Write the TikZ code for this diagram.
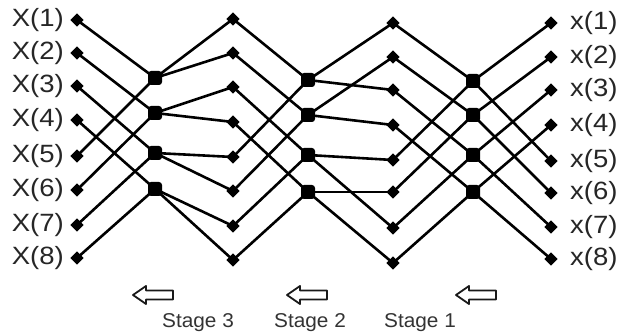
\documentclass[tikz,border=0pt]{standalone}
\usepackage{fontspec}
\usepackage{graphicx}
\setmainfont{Liberation Sans}
\usetikzlibrary{shapes.geometric}
\begin{document}
\begin{tikzpicture}[x=1pt,y=-1pt,
  wire/.style={line width=2.6pt},
  tip/.style={diamond, fill=black, minimum size=13.5pt, inner sep=0pt},
  hub/.style={rectangle, rounded corners=3pt, fill=black, minimum size=14pt, inner sep=0pt},
  lab/.style={font=\fontsize{25}{25}\selectfont, inner sep=0pt, text=black!85},
  stagelab/.style={font=\fontsize{20}{20}\selectfont, inner sep=0pt, text=black!80},
  arrowline/.style={draw=black!90, line width=1.8pt, fill=white, line join=round},
  pics/leftarrow/.style={code={
    \draw[arrowline] (-20,0) -- (-7,-9) -- (-7,-4.5) -- (20,-4.5) -- (20,4.5) -- (-7,4.5) -- (-7,9) -- cycle;
  }}]
\useasboundingbox (0,0) rectangle (621,336);
% columns of points
\foreach \i/\y in {1/20,2/53,3/86,4/120,5/156,6/190,7/225,8/258} \node[tip] (a\i) at (77,\y) {};
\foreach \i/\y in {1/78,2/113,3/153,4/189} \node[hub] (j\i) at (155,\y) {};
\foreach \i/\y in {1/19,2/53,3/87,4/122,5/157,6/191,7/226,8/260} \node[tip] (b\i) at (233,\y) {};
\foreach \i/\y in {1/80,2/115,3/155,4/192} \node[hub] (c\i) at (308,\y) {};
\foreach \i/\y in {1/23,2/57,3/90,4/125,5/160,6/192,7/228,8/263} \node[tip] (d\i) at (393,\y) {};
\foreach \i/\y in {1/81,2/115,3/155,4/192} \node[hub] (e\i) at (473,\y) {};
\foreach \i/\y in {1/23,2/57,3/90,4/125,5/161,6/193,7/227,8/259} \node[tip] (f\i) at (551,\y) {};
% labels
\foreach \i in {1,...,8} {
  \node[lab, anchor=east, xshift=-6pt] (lx\i) at (a\i.west) {\scalebox{1.1}[1]{X(\i)}};
  \node[lab, anchor=west, xshift=12pt] (rx\i) at (f\i.east) {\scalebox{1.1}[1]{x(\i)}};
}
% wires
\foreach \s/\t in {a1/j1,a5/j1,a2/j2,a6/j2,a3/j3,a7/j3,a4/j4,a8/j4,
  j1/b1,j1/b2,j2/b3,j2/b4,j3/b5,j3/b6,j4/b7,j4/b8,
  b1/c1,b5/c1,b2/c2,b6/c2,b3/c3,b7/c3,b4/c4,b8/c4,
  c1/d1,c1/d3,c2/d2,c2/d4,c3/d5,c3/d7,c4/d6,c4/d8,
  d1/e1,d5/e1,d2/e2,d6/e2,d3/e3,d7/e3,d4/e4,d8/e4,
  e1/f1,e1/f5,e2/f2,e2/f6,e3/f3,e3/f7,e4/f4,e4/f8}
  \draw[wire] (\s.center) -- (\t.center);
% stage arrows and labels
\pic at (153,295) {leftarrow};
\pic at (307,295) {leftarrow};
\pic at (476,295) {leftarrow};
\node[stagelab] (s3) at (198,323) {\scalebox{1.04}[1]{Stage 3}};
\node[stagelab] (s2) at (310,323) {\scalebox{1.04}[1]{Stage 2}};
\node[stagelab] (s1) at (420,323) {\scalebox{1.04}[1]{Stage 1}};
\end{tikzpicture}
\end{document}
